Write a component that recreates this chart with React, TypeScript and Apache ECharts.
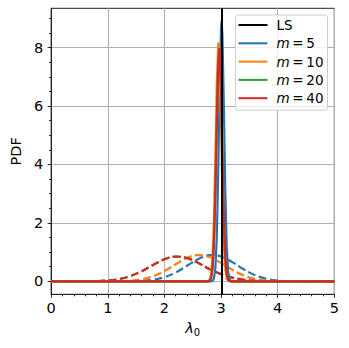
import React, { useEffect, useRef } from 'react';
import * as echarts from 'echarts';

// ---- data ----
const LS_VALUE = 3.02;
const LEGEND_NAMES = ['LS', 'm=5', 'm=10', 'm=20', 'm=40'];
const X_TICKS = [0, 1, 2, 3, 4, 5];
const Y_TICKS = [0, 2, 4, 6, 8];
const Y_MINOR = [0.5, 1, 1.5, 2, 2.5, 3, 3.5, 4, 4.5, 5, 5.5, 6, 6.5, 7, 7.5, 8, 8.5, 9];

// common x grid of the wide (dashed) curves
const X_WIDE = [0, 0.2, 0.4, 0.6, 0.8, 1.0, 1.2, 1.4, 1.6, 1.8, 2.0, 2.2, 2.4, 2.6, 2.8, 3.0, 3.2, 3.4, 3.6, 3.8, 4.0, 4.2, 4.4, 4.6, 4.8, 5.0];
const M5_DASHED = [0, 0, 0, 0, 0, 0, 0.001, 0.004, 0.016, 0.052, 0.139, 0.302, 0.533, 0.766, 0.894, 0.849, 0.656, 0.412, 0.21, 0.087, 0.03, 0.008, 0.002, 0, 0, 0];
const M10_DASHED = [0, 0, 0, 0, 0, 0.001, 0.006, 0.023, 0.069, 0.171, 0.348, 0.583, 0.799, 0.899, 0.831, 0.63, 0.392, 0.2, 0.084, 0.029, 0.008, 0.002, 0, 0, 0, 0];
const M20_DASHED = [0, 0, 0, 0.002, 0.008, 0.029, 0.079, 0.181, 0.347, 0.558, 0.751, 0.845, 0.794, 0.624, 0.415, 0.245, 0.125, 0.053, 0.019, 0.006, 0.001, 0, 0, 0, 0, 0];
const M40_DASHED = [0, 0, 0, 0.002, 0.008, 0.028, 0.077, 0.179, 0.346, 0.559, 0.754, 0.848, 0.796, 0.625, 0.414, 0.246, 0.127, 0.055, 0.02, 0.006, 0.001, 0, 0, 0, 0, 0];

// narrow (solid) curves as [x, pdf] pairs
const M5_SOLID: [number, number][] = [[0, 0], [2.825, 0], [2.85, 0.016], [2.875, 0.099], [2.9, 0.449], [2.925, 1.5], [2.95, 3.66], [2.975, 6.58], [3.0, 8.69], [3.01, 8.9], [3.025, 8.42], [3.05, 6.0], [3.075, 3.14], [3.1, 1.2], [3.125, 0.34], [3.15, 0.07], [3.175, 0.01], [3.2, 0], [5, 0]];
const M10_SOLID: [number, number][] = [[0, 0], [2.75, 0], [2.775, 0.01], [2.8, 0.055], [2.825, 0.241], [2.85, 0.82], [2.875, 2.15], [2.9, 4.34], [2.925, 6.76], [2.95, 8.11], [2.955, 8.15], [2.975, 7.5], [3.0, 5.35], [3.025, 2.94], [3.05, 1.24], [3.075, 0.41], [3.1, 0.1], [3.125, 0.02], [3.15, 0], [5, 0]];
const M20_SOLID: [number, number][] = [[0, 0], [2.75, 0], [2.775, 0.004], [2.8, 0.026], [2.825, 0.12], [2.85, 0.45], [2.875, 1.32], [2.9, 2.99], [2.925, 5.31], [2.95, 7.33], [2.97, 7.93], [2.975, 7.9], [3.0, 6.62], [3.025, 4.33], [3.05, 2.2], [3.075, 0.87], [3.1, 0.27], [3.125, 0.064], [3.15, 0.012], [3.175, 0], [5, 0]];
const M40_SOLID: [number, number][] = [[0, 0], [2.75, 0], [2.775, 0.004], [2.8, 0.025], [2.825, 0.118], [2.85, 0.446], [2.875, 1.31], [2.9, 2.98], [2.925, 5.3], [2.95, 7.34], [2.97, 7.95], [2.975, 7.91], [3.0, 6.64], [3.025, 4.34], [3.05, 2.21], [3.075, 0.877], [3.1, 0.27], [3.125, 0.065], [3.15, 0.012], [3.175, 0], [5, 0]];

const COLORS: Record<string, string> = {
  LS: '#000000',
  'm=5': '#1f77b4',
  'm=10': '#ff7f0e',
  'm=20': '#2ca02c',
  'm=40': '#d62728',
};

const FONT = 'DejaVu Sans';
const FS = 14.5;
const LFS = 13.5;
const LW = 2.2;

function wide(name: string, ys: number[]) {
  return {
    type: 'line',
    name: name + ' (dashed)',
    color: COLORS[name],
    data: X_WIDE.map((x, i) => [x, ys[i]]),
    showSymbol: false,
    symbol: 'none',
    smooth: 0.4,
    lineStyle: { width: LW, type: [8, 3.5], color: COLORS[name], cap: 'butt' },
    silent: true,
  };
}

function narrow(name: string, pts: [number, number][]) {
  return {
    type: 'line',
    name,
    color: COLORS[name],
    data: pts,
    showSymbol: false,
    symbol: 'none',
    lineStyle: { width: LW, color: COLORS[name], join: 'round' },
    silent: true,
  };
}

export default function App() {
  const ref = useRef<HTMLDivElement>(null);
  useEffect(() => {
    const chart = echarts.init(ref.current!, null, { renderer: 'svg' });
    const option: any = {
      animation: false,
      backgroundColor: '#ffffff',
      textStyle: { fontFamily: FONT },
      grid: {
        left: 47.3,
        top: 8.3,
        width: 287,
        height: 286,
        show: true,
        borderColor: '#222',
        borderWidth: 1,
        backgroundColor: 'transparent',
        containLabel: false,
      },
      legend: {
        orient: 'vertical',
        right: 21.5,
        top: 15,
        data: LEGEND_NAMES,
        icon: 'rect',
        itemWidth: 29,
        itemHeight: 2,
        itemGap: 4.3,
        padding: [3, 4, 5, 3],
        backgroundColor: 'rgba(255,255,255,0.8)',
        borderColor: '#cccccc',
        borderWidth: 1,
        borderRadius: 3,
        selectedMode: false,
        formatter: (name: string) =>
          name === 'LS' ? '{n0|LS}' : `{i|m}{n|\u2009=\u2009${name.slice(2)}}`,
        textStyle: {
          fontSize: LFS,
          lineHeight: 14,
          color: '#000',
          fontFamily: FONT,
          rich: {
            n0: { fontSize: LFS, fontFamily: FONT, color: '#000', padding: [0, 0, 0, 4] },
            i: { fontSize: LFS, fontFamily: FONT, fontStyle: 'italic', color: '#000', padding: [0, 0, 0, 4] },
            n: { fontSize: LFS, fontFamily: FONT, color: '#000' },
          },
        },
      },
      xAxis: {
        type: 'value',
        min: X_TICKS[0],
        max: X_TICKS[X_TICKS.length - 1],
        interval: 1,
        axisLine: { show: true, onZero: false, lineStyle: { color: '#222', width: 1 } },
        axisTick: { show: true, length: 3.5, lineStyle: { color: '#222', width: 1 } },
        minorTick: { show: true, splitNumber: 5, length: 2, lineStyle: { color: '#222', width: 1 } },
        axisLabel: { fontSize: FS, color: '#000', margin: 6, fontFamily: FONT },
        splitLine: { show: true, lineStyle: { color: '#b0b0b0', width: 1 } },
        name: '{l|λ}{s|0}',
        nameLocation: 'middle',
        nameGap: 25,
        nameTextStyle: {
          rich: {
            l: { fontSize: FS, fontFamily: FONT, fontStyle: 'italic', color: '#000', lineHeight: 18 },
            s: { fontSize: 10, fontFamily: FONT, color: '#000', lineHeight: 10, verticalAlign: 'bottom' },
          },
        },
      },
      yAxis: [
        {
          type: 'value',
          min: -0.445,
          max: 9.345,
          position: 'left',
          axisLine: { show: true, onZero: false, lineStyle: { color: '#222', width: 1 } },
          axisTick: { show: true, customValues: Y_TICKS, length: 3.5, lineStyle: { color: '#222', width: 1 } },
          axisLabel: { customValues: Y_TICKS, fontSize: FS, color: '#000', margin: 8, fontFamily: FONT },
          splitLine: { show: true, lineStyle: { color: '#b0b0b0', width: 1 } },
          name: 'PDF',
          nameLocation: 'middle',
          nameGap: 24,
          nameTextStyle: { fontSize: FS, fontFamily: FONT, color: '#000' },
        },
        {
          type: 'value',
          min: -0.445,
          max: 9.345,
          position: 'left',
          axisLine: { show: false },
          axisTick: { show: true, customValues: Y_MINOR, length: 2, lineStyle: { color: '#222', width: 1 } },
          axisLabel: { show: false },
          splitLine: { show: false },
        },
      ],
      series: [
        wide('m=5', M5_DASHED),
        wide('m=10', M10_DASHED),
        wide('m=20', M20_DASHED),
        wide('m=40', M40_DASHED),
        narrow('m=5', M5_SOLID),
        narrow('m=10', M10_SOLID),
        narrow('m=20', M20_SOLID),
        narrow('m=40', M40_SOLID),
        {
          type: 'line',
          name: 'LS',
          color: '#000',
          data: [],
          lineStyle: { color: '#000', width: LW },
          markLine: {
            silent: true,
            symbol: 'none',
            label: { show: false },
            lineStyle: { color: '#000', width: 2, type: 'solid' },
            data: [{ xAxis: LS_VALUE }],
          },
        },
      ],
    };
    chart.setOption(option);
    return () => chart.dispose();
  }, []);
  return <div ref={ref} style={{ position: 'fixed', left: 0, top: 0, width: 349, height: 348 }} />;
}
